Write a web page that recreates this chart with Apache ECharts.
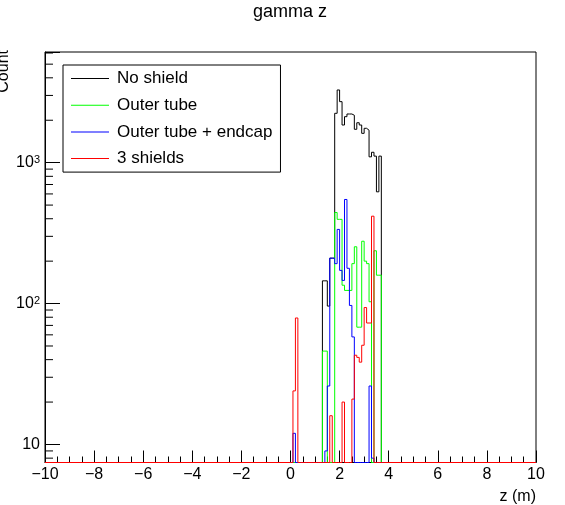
<!DOCTYPE html>
<html>
<head>
<meta charset="utf-8">
<style>
  html, body { margin: 0; padding: 0; background: #fff; }
  #chart { width: 565px; height: 505px; }
</style>
<script src="https://cdn.jsdelivr.net/npm/echarts@6/dist/echarts.min.js"></script>
</head>
<body>
<div id="chart"></div>
<script>
// histogram bins are 0.1 m wide, listed from z = 0; every other bin in [-10, 10] is empty
var binStart = 0
var binWidth = 0.1

var noShield = [0, 0, 0, 0, 0, 0, 0, 0, 0, 0, 0, 0, 0, 145, 145, 96, 210, 210, 2240, 3280,
    2710, 1850, 2120, 2215, 2215, 2170, 1725, 1920, 1850, 1615, 1753, 1700, 1100, 1185, 1113, 621, 1113, 0]
var outerTube = [0, 0, 0, 0, 0, 0, 0, 0, 0, 0, 0, 0, 0, 46, 46, 0, 0, 0, 443, 396,
    396, 135, 124, 124, 124, 192, 253, 68, 68, 277, 200, 192, 103, 0, 237, 159, 159, 0]
var outerTubeEndcap = [0, 12, 0, 0, 0, 0, 0, 0, 0, 0, 0, 0, 0, 0, 9, 26, 210, 210, 192, 336,
    172, 146, 548, 178, 97, 58, 0, 0, 0, 0, 0, 0, 26, 8, 0, 0, 0, 0]
var threeShields = [0, 24, 79, 0, 0, 0, 0, 0, 0, 0, 0, 0, 0, 0, 0, 0, 16, 0, 0, 0,
    0, 20, 0, 0, 0, 21, 43, 41.5, 38.4, 50.6, 93.7, 72.8, 72.8, 417, 0, 0, 0, 0]

var seriesNames = ['No shield', 'Outer tube', 'Outer tube + endcap', '3 shields']
var seriesColors = ['#000000', '#00ff00', '#0000ff', '#ff0000']

var xMin = -10, xMax = 10
var yMin = 7.45, yMax = 6100
var yMinorTicks = [8, 9, 20, 30, 40, 50, 60, 70, 80, 90, 200, 300, 400, 500, 600, 700, 800, 900,
    2000, 3000, 4000, 5000, 6000]

var font = 'Liberation Sans'

// step outline of a histogram, empty bins sit on the bottom of the log frame
function histPoints(values) {
    var pts = [[xMin, yMin]]
    for (var i = 0; i < values.length; i++) {
        var x = +(binStart + i * binWidth).toFixed(3)
        pts.push([x, values[i] > 0 ? values[i] : yMin])
    }
    pts.push([+(binStart + values.length * binWidth).toFixed(3), yMin])
    pts.push([xMax, yMin])
    return pts
}

var allValues = [noShield, outerTube, outerTubeEndcap, threeShields]
var series = allValues.map(function (vals, i) {
    return {
        name: seriesNames[i],
        type: 'line',
        step: 'end',
        symbol: 'none',
        clip: false,
        data: histPoints(vals),
        lineStyle: { color: seriesColors[i], width: 1 },
        itemStyle: { color: seriesColors[i] },
        z: 2 + i
    }
})

// minor ticks of the log axis (2..9 x 10^n), drawn inward from the y axis
series.push({
    type: 'custom',
    silent: true,
    data: yMinorTicks.map(function (v) { return [xMin, v] }),
    encode: { x: 0, y: 1 },
    renderItem: function (params, api) {
        var p = api.coord([api.value(0), api.value(1)])
        return {
            type: 'line',
            shape: { x1: p[0], y1: p[1], x2: p[0] + 8, y2: p[1] },
            style: { stroke: '#000', lineWidth: 1 }
        }
    },
    z: 10
})

var chart = echarts.init(document.getElementById('chart'))
chart.setOption({
    animation: false,
    backgroundColor: '#fff',
    grid: {
        left: 45, right: 29, top: 52, bottom: 42.5,
        show: true, borderColor: '#000', borderWidth: 1,
        containLabel: false, outerBoundsMode: 'none'
    },
    legend: {
        data: seriesNames.map(function (n) { return { name: n, icon: 'rect' } }),
        orient: 'vertical',
        left: 63, top: 65,
        itemWidth: 38, itemHeight: 1, itemGap: 9.7,
        padding: [5, 8, 5, 8],
        borderColor: '#000', borderWidth: 1, borderRadius: 0,
        backgroundColor: '#fff',
        selectedMode: false,
        textStyle: { fontFamily: font, fontSize: 17, color: '#000', lineHeight: 17, padding: [0, 0, 0, 3] }
    },
    xAxis: {
        type: 'value',
        min: xMin, max: xMax, interval: 2,
        axisLine: { onZero: false, lineStyle: { color: '#000', width: 1 } },
        axisTick: { inside: true, length: 12, lineStyle: { color: '#000' } },
        minorTick: { show: true, splitNumber: 4, length: 6, lineStyle: { color: '#000' } },
        splitLine: { show: false },
        axisLabel: {
            margin: 4,
            color: '#000', fontFamily: font, fontSize: 16,
            formatter: function (v) { return v < 0 ? '\u2212' + Math.abs(v) : String(v) }
        }
    },
    yAxis: {
        type: 'log',
        logBase: 10,
        min: yMin, max: yMax,
        axisLine: { show: true, onZero: false, lineStyle: { color: '#000', width: 1 } },
        axisTick: { inside: true, length: 15, lineStyle: { color: '#000' } },
        splitLine: { show: false },
        axisLabel: {
            margin: 5,
            color: '#000', fontFamily: font, fontSize: 16,
            formatter: function (v) {
                var e = Math.round(Math.log10(v))
                if (Math.abs(Math.log10(v) - e) > 1e-6) return ''
                if (e === 1) return '{b|10}'
                return '{b|10}{s|' + e + '}'
            },
            rich: {
                b: { fontFamily: font, fontSize: 16, lineHeight: 16, verticalAlign: 'bottom', color: '#000' },
                s: { fontFamily: font, fontSize: 11, lineHeight: 11, verticalAlign: 'top', padding: [0, 0, 8, 0], color: '#000' }
            }
        }
    },
    graphic: [
        {
            type: 'text', x: 290, y: 3,
            style: { text: 'gamma z', fontFamily: font, fontSize: 18, fill: '#000', textAlign: 'center', textVerticalAlign: 'top' }
        },
        {
            type: 'text', x: 536, y: 489,
            style: { text: 'z (m)', fontFamily: font, fontSize: 16, fill: '#000', textAlign: 'right', textVerticalAlign: 'top' }
        },
        {
            type: 'text', x: 12, y: 50, rotation: Math.PI / 2,
            style: { text: 'Count', fontFamily: font, fontSize: 16, fill: '#000', textAlign: 'right', textVerticalAlign: 'bottom' }
        }
    ],
    series: series
})
</script>
</body>
</html>
